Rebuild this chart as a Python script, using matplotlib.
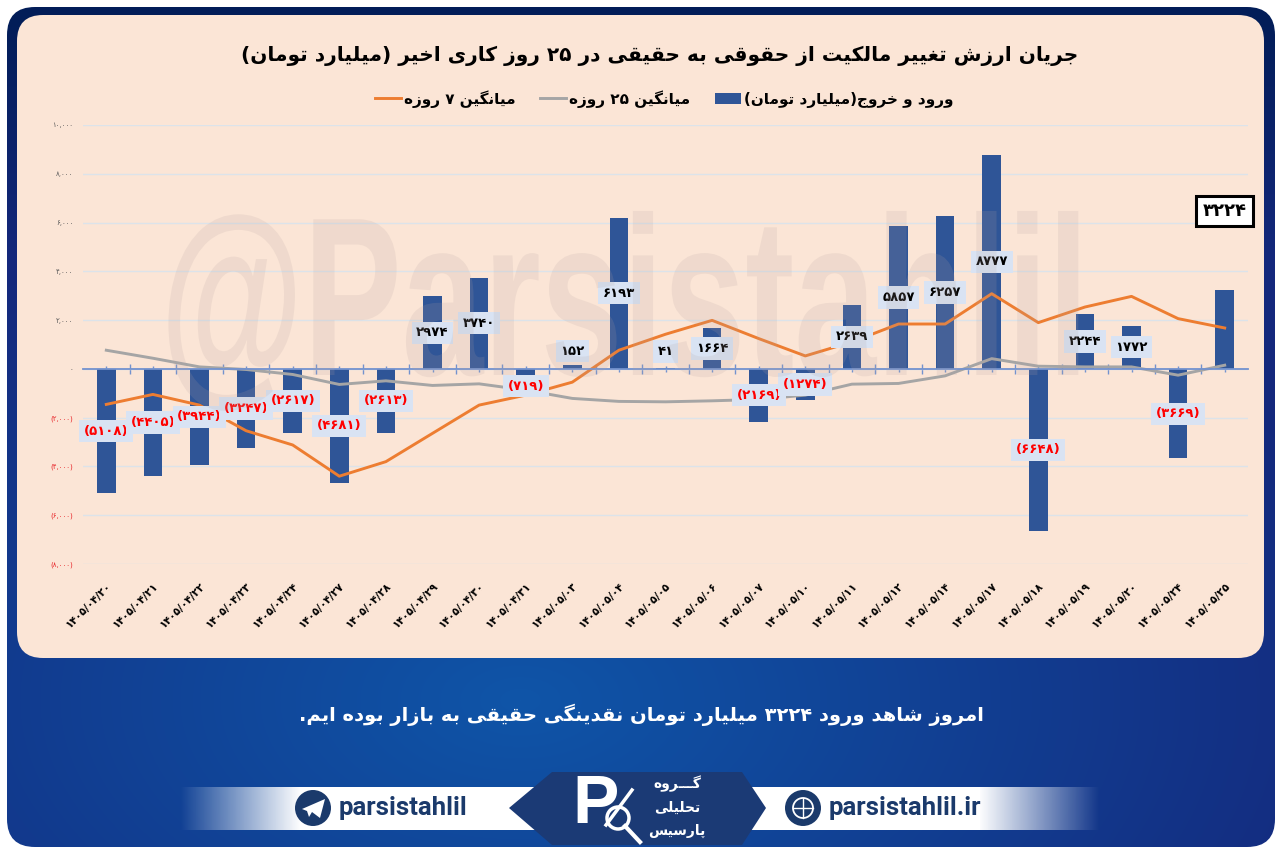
import numpy as np
import matplotlib
matplotlib.use('Agg')
import matplotlib.pyplot as plt
import matplotlib.patheffects as pe
from matplotlib.patches import FancyBboxPatch, Polygon, Circle, Rectangle
from matplotlib.lines import Line2D
from matplotlib.transforms import Affine2D

# data
dates = ['۱۴۰۵/۰۴/۲۰', '۱۴۰۵/۰۴/۲۱', '۱۴۰۵/۰۴/۲۲', '۱۴۰۵/۰۴/۲۳', '۱۴۰۵/۰۴/۲۴', '۱۴۰۵/۰۴/۲۷', '۱۴۰۵/۰۴/۲۸',
         '۱۴۰۵/۰۴/۲۹', '۱۴۰۵/۰۴/۳۰', '۱۴۰۵/۰۴/۳۱', '۱۴۰۵/۰۵/۰۳', '۱۴۰۵/۰۵/۰۴', '۱۴۰۵/۰۵/۰۵', '۱۴۰۵/۰۵/۰۶',
         '۱۴۰۵/۰۵/۰۷', '۱۴۰۵/۰۵/۱۰', '۱۴۰۵/۰۵/۱۱', '۱۴۰۵/۰۵/۱۲', '۱۴۰۵/۰۵/۱۴', '۱۴۰۵/۰۵/۱۷', '۱۴۰۵/۰۵/۱۸',
         '۱۴۰۵/۰۵/۱۹', '۱۴۰۵/۰۵/۲۰', '۱۴۰۵/۰۵/۲۴', '۱۴۰۵/۰۵/۲۵']
flow = [-5108, -4405, -3944, -3247, -2617, -4681, -2613, 2974, 3740, -719, 152, 6193, 41, 1664, -2169, -1274,
        2639, 5857, 6257, 8777, -6648, 2244, 1772, -3669, 3224]
avg7 = [-1456, -1047, -1485, -2536, -3120, -4400, -3803, -2643, -1485, -1076, -544, 765, 1420, 1990, 1243, 532,
        1104, 1840, 1840, 3083, 1897, 2536, 2973, 2061, 1677]
avg25 = [765, 437, 82, -25, -229, -638, -490, -679, -613, -871, -1211, -1333, -1350, -1309, -1252, -1076,
         -626, -597, -286, 420, 110, 82, 82, -258, 151]
y_ticks = [10000, 8000, 6000, 4000, 2000, 0, -2000, -4000, -6000, -8000]
y_labels = ['۱۰,۰۰۰', '۸,۰۰۰', '۶,۰۰۰', '۴,۰۰۰', '۲,۰۰۰', '۰', '(۲,۰۰۰)', '(۴,۰۰۰)', '(۶,۰۰۰)', '(۸,۰۰۰)']

title_text = 'جریان ارزش تغییر مالکیت از حقوقی به حقیقی در ۲۵ روز کاری اخیر (میلیارد تومان)'
bottom_text = 'امروز شاهد ورود ۳۲۲۴ میلیارد تومان نقدینگی حقیقی به بازار بوده ایم.'
name_bar = 'ورود و خروج(میلیارد تومان)'
name_7 = 'میانگین ۷ روزه'
name_25 = 'میانگین ۲۵ روزه'

FA_DIGITS = '۰۱۲۳۴۵۶۷۸۹'
# isolated, final, initial, medial
FORMS = {
    'ا': (0xFE8D, 0xFE8E), 'ب': (0xFE8F, 0xFE90, 0xFE91, 0xFE92), 'پ': (0xFB56, 0xFB57, 0xFB58, 0xFB59),
    'ت': (0xFE95, 0xFE96, 0xFE97, 0xFE98), 'ج': (0xFE9D, 0xFE9E, 0xFE9F, 0xFEA0),
    'ح': (0xFEA1, 0xFEA2, 0xFEA3, 0xFEA4), 'خ': (0xFEA5, 0xFEA6, 0xFEA7, 0xFEA8), 'د': (0xFEA9, 0xFEAA),
    'ر': (0xFEAD, 0xFEAE), 'ز': (0xFEAF, 0xFEB0), 'س': (0xFEB1, 0xFEB2, 0xFEB3, 0xFEB4),
    'ش': (0xFEB5, 0xFEB6, 0xFEB7, 0xFEB8), 'غ': (0xFECD, 0xFECE, 0xFECF, 0xFED0),
    'ق': (0xFED5, 0xFED6, 0xFED7, 0xFED8), 'ک': (0xFB8E, 0xFB8F, 0xFB90, 0xFB91),
    'گ': (0xFB92, 0xFB93, 0xFB94, 0xFB95), 'ل': (0xFEDD, 0xFEDE, 0xFEDF, 0xFEE0),
    'م': (0xFEE1, 0xFEE2, 0xFEE3, 0xFEE4), 'ن': (0xFEE5, 0xFEE6, 0xFEE7, 0xFEE8), 'و': (0xFEED, 0xFEEE),
    'ه': (0xFEE9, 0xFEEA, 0xFEEB, 0xFEEC), 'ی': (0xFBFC, 0xFBFD, 0xFBFE, 0xFBFF),
    'ـ': (0x0640, 0x0640, 0x0640, 0x0640),
}


# matplotlib does no arabic shaping, so pick the joined forms and flip the string
def fa(s):
    out = []
    for i, c in enumerate(s):
        if c not in FORMS:
            out.append(c)
            continue
        prev = s[i - 1] if i > 0 else ''
        nxt = s[i + 1] if i < len(s) - 1 else ''
        before = prev in FORMS and len(FORMS[prev]) == 4
        after = nxt in FORMS and len(FORMS[c]) == 4
        f = FORMS[c]
        if before and after:
            out.append(chr(f[3]))
        elif before:
            out.append(chr(f[1]))
        elif after:
            out.append(chr(f[2]))
        else:
            out.append(chr(f[0]))
    swap = {'(': ')', ')': '('}
    rev = [swap.get(c, c) for c in reversed(out)]
    # digit runs stay left to right
    res = ''
    run = ''
    for c in rev:
        if c in FA_DIGITS:
            run += c
        else:
            res += run[::-1] + c
            run = ''
    return res + run[::-1]


def to_fa(n):
    return ''.join(FA_DIGITS[int(d)] for d in str(abs(n)))


# squeezes the drawn glyphs sideways, the watermark font is very condensed
class Squeeze(pe.AbstractPathEffect):
    def __init__(self, sx, x0):
        self.sx = sx
        self.x0 = x0

    def draw_path(self, renderer, gc, tpath, affine, rgbFace=None):
        t = affine + Affine2D().translate(-self.x0, 0).scale(self.sx, 1).translate(self.x0, 0)
        renderer.draw_path(gc, tpath, t, rgbFace)


plt.rcParams['font.family'] = ['DejaVu Sans']

W, H = 1280, 858
fig = plt.figure(figsize=(12.8, 8.58), dpi=100, facecolor='white')

# frame and panels, in pixels
bg = fig.add_axes([0, 0, 1, 1])
bg.set_xlim(0, W)
bg.set_ylim(H, 0)
bg.axis('off')

yy, xx = np.mgrid[0:H, 0:W]
r = np.clip(np.hypot((xx - 520) / 900, (yy - 700) / 520), 0, 1)[..., None]
c_mid = np.array([0x0F, 0x55, 0xA8]) / 255
c_out = np.array([0x14, 0x28, 0x7C]) / 255
c_top = np.array([0x02, 0x1D, 0x58]) / 255
grad = c_mid * (1 - r) + c_out * r
t = np.clip((260 - yy) / 240, 0, 1)[..., None]
grad = grad * (1 - t) + c_top * t
im = bg.imshow(grad, extent=(0, W, H, 0), aspect='auto', zorder=1)
frame = FancyBboxPatch((32, 32), W - 37 - 32 + 1, 847 - 32 - 32 + 7, boxstyle='round,pad=0,rounding_size=1',
                       transform=bg.transData, fc='none', ec='none')
frame = FancyBboxPatch((7, 7), 1268, 840, boxstyle='round,pad=0,rounding_size=28', fc='none', ec='none')
bg.add_patch(frame)
im.set_clip_path(frame)

panel = FancyBboxPatch((17, 15), 1247, 643, boxstyle='round,pad=0,rounding_size=26', fc='#FBE5D6', ec='none', zorder=2)
bg.add_patch(panel)

bg.text(660, 56, fa(title_text), ha='center', va='center', fontsize=14.5, fontweight='bold', color='black', zorder=3)
bg.text(641, 715, fa(bottom_text), ha='center', va='center', fontsize=14, fontweight='bold', color='white', zorder=3)

# footer band with faded ends
band = np.ones((1, 920, 4))
ramp = np.clip(np.minimum(np.arange(920), 919 - np.arange(920)) / 120, 0, 1)
band[0, :, 3] = ramp
bg.imshow(band, extent=(180, 1100, 830, 787), aspect='auto', zorder=3)
bg.set_xlim(0, W)
bg.set_ylim(H, 0)
bg.add_patch(Polygon([[552, 772], [742, 772], [766, 808], [742, 845], [552, 845], [509, 808]], closed=True,
                     fc='#1B3A75', ec='none', zorder=4))
bg.add_patch(Circle((313, 808), 18, fc='#1B3A6B', ec='none', zorder=5))
bg.add_patch(Polygon([[302, 809], [325, 799], [320, 818], [312, 812], [309, 817], [307, 811]], closed=True,
                     fc='white', ec='none', zorder=6))
bg.add_patch(Circle((803, 808), 18, fc='#1B3A6B', ec='none', zorder=5))
bg.add_patch(Circle((803, 808), 10, fc='none', ec='white', lw=1.3, zorder=6))
bg.add_line(Line2D([793, 813], [808, 808], color='white', lw=1, zorder=6))
bg.add_line(Line2D([803, 803], [798, 818], color='white', lw=1, zorder=6))
bg.text(339, 808, 'parsistahlil', ha='left', va='center', fontsize=18.5, fontweight='bold', family='Roboto',
        color='#1B3A6B', zorder=5)
bg.text(829, 808, 'parsistahlil.ir', ha='left', va='center', fontsize=18.5, fontweight='bold', family='Roboto',
        color='#1B3A6B', zorder=5)
bg.text(596, 805, 'P', ha='center', va='center', fontsize=50, fontweight='bold', family='Liberation Sans',
        color='white', zorder=5)
bg.add_patch(Circle((618, 818), 11, fc='none', ec='white', lw=2.5, zorder=6))
bg.add_line(Line2D([625, 640], [826, 842], color='white', lw=3, zorder=6))
bg.add_line(Line2D([606, 632], [825, 790], color='white', lw=2.5, zorder=6))
bg.text(677, 784, fa('گـــروه'), ha='center', va='center', fontsize=10, fontweight='bold', color='white', zorder=5)
bg.text(677, 808, fa('تحلیلی'), ha='center', va='center', fontsize=10, fontweight='bold', color='white', zorder=5)
bg.text(677, 831, fa('پارسیس'), ha='center', va='center', fontsize=10, fontweight='bold', color='white', zorder=5)

# chart
ax = fig.add_axes([83 / W, 1 - 564 / H, (1248 - 83) / W, (564 - 125) / H])
ax.patch.set_alpha(0)
x = np.arange(len(flow))
ax.bar(x, flow, width=0.395, color='#2F5597', zorder=3, label=fa(name_bar))
ax.plot(x, avg7, color='#ED7D31', lw=2.1, zorder=4, label=fa(name_7))
ax.plot(x, avg25, color='#A5A5A5', lw=2.1, zorder=4, label=fa(name_25))
ax.set_xlim(-0.5, len(flow) - 0.5)
ax.set_ylim(-8000, 10000)
ax.grid(axis='y', color='#DCE3EA', lw=1, zorder=1)
ax.set_axisbelow(True)
for s in ['top', 'left', 'right']:
    ax.spines[s].set_visible(False)
ax.spines['bottom'].set_position(('data', 0))
ax.spines['bottom'].set_color('#7392CE')
ax.spines['bottom'].set_linewidth(1.3)
ax.spines['bottom'].set_zorder(5)

ax.set_yticks(y_ticks)
ax.set_yticklabels(y_labels, fontsize=5, color='#595959')
for lab, v in zip(ax.get_yticklabels(), y_ticks):
    if v < 0:
        lab.set_color('#E8262A')
ax.tick_params(axis='y', length=0, pad=7)

ax.set_xticks(x)
ax.set_xticks(x[:-1] + 0.5, minor=True)
ax.set_xticklabels(dates, rotation=45, ha='right', va='top', rotation_mode='anchor', fontsize=7.6,
                   fontweight='bold', color='black')
ax.tick_params(axis='x', which='major', length=5, width=1, color='#7392CE', direction='inout', pad=150)
ax.tick_params(axis='x', which='minor', length=7, width=1, color='#7392CE', direction='inout')

# data labels sit at the middle of the bars, a few were dragged away
label_shift = {9: -8.5, 10: 16, 12: 17}
for i, v in enumerate(flow[:-1]):
    txt = to_fa(v)
    col = 'black'
    if v < 0:
        txt = '(' + txt + ')'
        col = '#FF0000'
    ax.annotate(txt, (i, v / 2), xytext=(0, label_shift.get(i, 0) * 0.72), textcoords='offset points', ha='center',
                va='center', fontsize=9.5, fontweight='bold', color=col, zorder=6,
                bbox=dict(boxstyle='square,pad=0.35', fc='#D9E3F3', ec='none'))
ax.annotate(to_fa(flow[-1]), (x[-1], flow[-1]), xytext=(0, 57), textcoords='offset points', ha='center', va='center',
            fontsize=13, fontweight='bold', color='black', zorder=7,
            bbox=dict(boxstyle='square,pad=0.35', fc='white', ec='black', lw=2.2))

leg = ax.legend(loc='center', bbox_to_anchor=(664 / W, 1 - 99 / H), bbox_transform=fig.transFigure, ncol=3, frameon=False,
                prop={'size': 11, 'weight': 'bold'}, handlelength=1.7, handletextpad=0.2, columnspacing=1.6,
                borderpad=0)

# watermark goes over everything with a faint tint
wm = fig.text(160 / W, 1 - 375 / H, '@Parsistahlil', ha='left', va='baseline', fontsize=163, fontweight='bold',
              family='Liberation Sans', color='#B4A2A1', alpha=0.17, zorder=20)
wm.set_path_effects([Squeeze(0.65, 160)])

fig.savefig('out.png', dpi=100)
